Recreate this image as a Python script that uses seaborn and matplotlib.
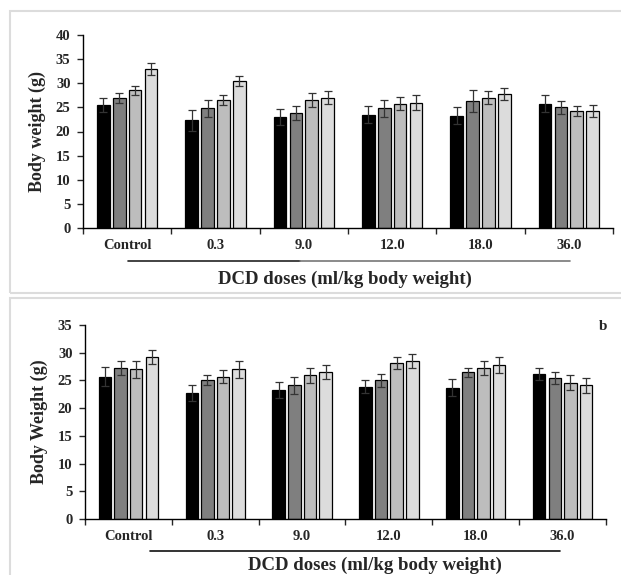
import numpy as np
import pandas as pd
import matplotlib
matplotlib.use("Agg")
import matplotlib.pyplot as plt
import seaborn as sns
from matplotlib.patches import Rectangle
from matplotlib.lines import Line2D
from matplotlib.ticker import FixedLocator, MultipleLocator

# dose groups and the four bars in each group
doses = ["Control", "0.3", "9.0", "12.0", "18.0", "36.0"]
periods = ["Week 1", "Week 2", "Week 3", "Week 4"]
bar_colors = ["#000000", "#7f7f7f", "#bdbdbd", "#dcdcdc"]

# panel a: means and error bars
a_w1 = [25.5, 22.3, 23.0, 23.5, 23.3, 25.8]
a_w2 = [27.0, 24.8, 23.8, 24.8, 26.3, 25.0]
a_w3 = [28.5, 26.5, 26.5, 25.8, 27.0, 24.3]
a_w4 = [33.0, 30.5, 27.0, 26.0, 27.8, 24.3]
a_e1 = [1.4, 2.2, 1.7, 1.7, 1.7, 1.7]
a_e2 = [1.0, 1.7, 1.5, 1.7, 2.2, 1.3]
a_e3 = [1.0, 1.0, 1.5, 1.3, 1.3, 1.0]
a_e4 = [1.3, 1.0, 1.3, 1.5, 1.3, 1.2]

# panel b: means and error bars
b_w1 = [25.7, 22.7, 23.3, 23.9, 23.7, 26.1]
b_w2 = [27.2, 25.0, 24.1, 25.0, 26.5, 25.4]
b_w3 = [27.0, 25.7, 25.9, 28.1, 27.2, 24.6]
b_w4 = [29.2, 27.0, 26.5, 28.5, 27.8, 24.1]
b_e1 = [1.7, 1.5, 1.5, 1.1, 1.5, 1.1]
b_e2 = [1.3, 0.9, 1.6, 1.1, 0.8, 1.1]
b_e3 = [1.5, 1.1, 1.3, 1.1, 1.3, 1.3]
b_e4 = [1.3, 1.5, 1.3, 1.3, 1.4, 1.4]

sns.set_style("ticks")
plt.rcParams["font.family"] = ["Liberation Serif", "DejaVu Serif"]
plt.rcParams["font.weight"] = "bold"
plt.rcParams["axes.labelweight"] = "bold"


def draw_panel(ax, series, errors, ylabel, ymax):
    df = pd.DataFrame({
        "dose": doses * len(periods),
        "period": np.repeat(periods, len(doses)),
        "weight": np.concatenate(series),
    })
    sns.barplot(data=df, x="dose", y="weight", hue="period", order=doses,
                hue_order=periods, palette=bar_colors, width=0.72, gap=0.2,
                edgecolor="black", linewidth=0.9, errorbar=None,
                legend=False, ax=ax)
    for cont, err in zip(ax.containers, errors):
        xs = [b.get_x() + b.get_width() / 2 for b in cont]
        hs = [b.get_height() for b in cont]
        ax.errorbar(xs, hs, yerr=err, fmt="none", ecolor="#333333",
                    elinewidth=0.9, capsize=3, capthick=0.9)

    ax.set_xlim(-0.5, len(doses) - 0.5)
    ax.set_ylim(0, ymax)
    ax.yaxis.set_major_locator(MultipleLocator(5))
    ax.xaxis.set_minor_locator(FixedLocator(np.arange(-0.5, len(doses), 1.0)))
    ax.tick_params(axis="x", which="major", length=0, pad=8, labelsize=10.5)
    ax.tick_params(axis="x", which="minor", length=4, width=1, direction="out")
    ax.tick_params(axis="y", length=4, width=1, direction="out", pad=5,
                   labelsize=10.5)
    for s in ["top", "right"]:
        ax.spines[s].set_visible(False)
    for s in ["left", "bottom"]:
        ax.spines[s].set_linewidth(1)
        ax.spines[s].set_color("black")
    ax.set_xlabel("")
    ax.set_ylabel(ylabel, fontsize=13, labelpad=7)


fig = plt.figure(figsize=(6.21, 5.75), dpi=100)
W, H = 621.0, 575.0

# panel frames
fig.patches.append(Rectangle((10 / W, 1 - 293 / H), 1.0, 282 / H,
                             transform=fig.transFigure, fill=False,
                             edgecolor="#dcdcdc", linewidth=1.5))
fig.patches.append(Rectangle((10 / W, -0.05), 1.0, (1 - 298 / H) + 0.05,
                             transform=fig.transFigure, fill=False,
                             edgecolor="#dcdcdc", linewidth=1.5))

ax1 = fig.add_axes([83 / W, 1 - 228 / H, (613 - 83) / W, (228 - 35) / H])
draw_panel(ax1, [a_w1, a_w2, a_w3, a_w4], [a_e1, a_e2, a_e3, a_e4],
           "Body weight (g)", 40)

ax2 = fig.add_axes([85 / W, 1 - 519 / H, (606 - 85) / W, (519 - 325) / H])
draw_panel(ax2, [b_w1, b_w2, b_w3, b_w4], [b_e1, b_e2, b_e3, b_e4],
           "Body Weight (g)", 35)

# rule under tick labels and axis titles
fig.lines.append(Line2D([128 / W, 300 / W], [1 - 261 / H] * 2,
                        transform=fig.transFigure, color="#222222", lw=1.2))
fig.lines.append(Line2D([300 / W, 570 / W], [1 - 261 / H] * 2,
                        transform=fig.transFigure, color="#777777", lw=1.2))
fig.lines.append(Line2D([150 / W, 560 / W], [1 - 551 / H] * 2,
                        transform=fig.transFigure, color="#111111", lw=1.2))

fig.text(345 / W, 1 - 271 / H, "DCD doses (ml/kg body weight)",
         ha="center", va="top", fontsize=13.5, fontweight="bold")
fig.text(375 / W, 1.5 / H, "DCD doses (ml/kg body weight)",
         ha="center", va="bottom", fontsize=13.5, fontweight="bold")
fig.text(603 / W, 1 - 326 / H, "b", ha="center", va="center",
         fontsize=11, fontweight="bold")

fig.savefig("out.png", dpi=100)
